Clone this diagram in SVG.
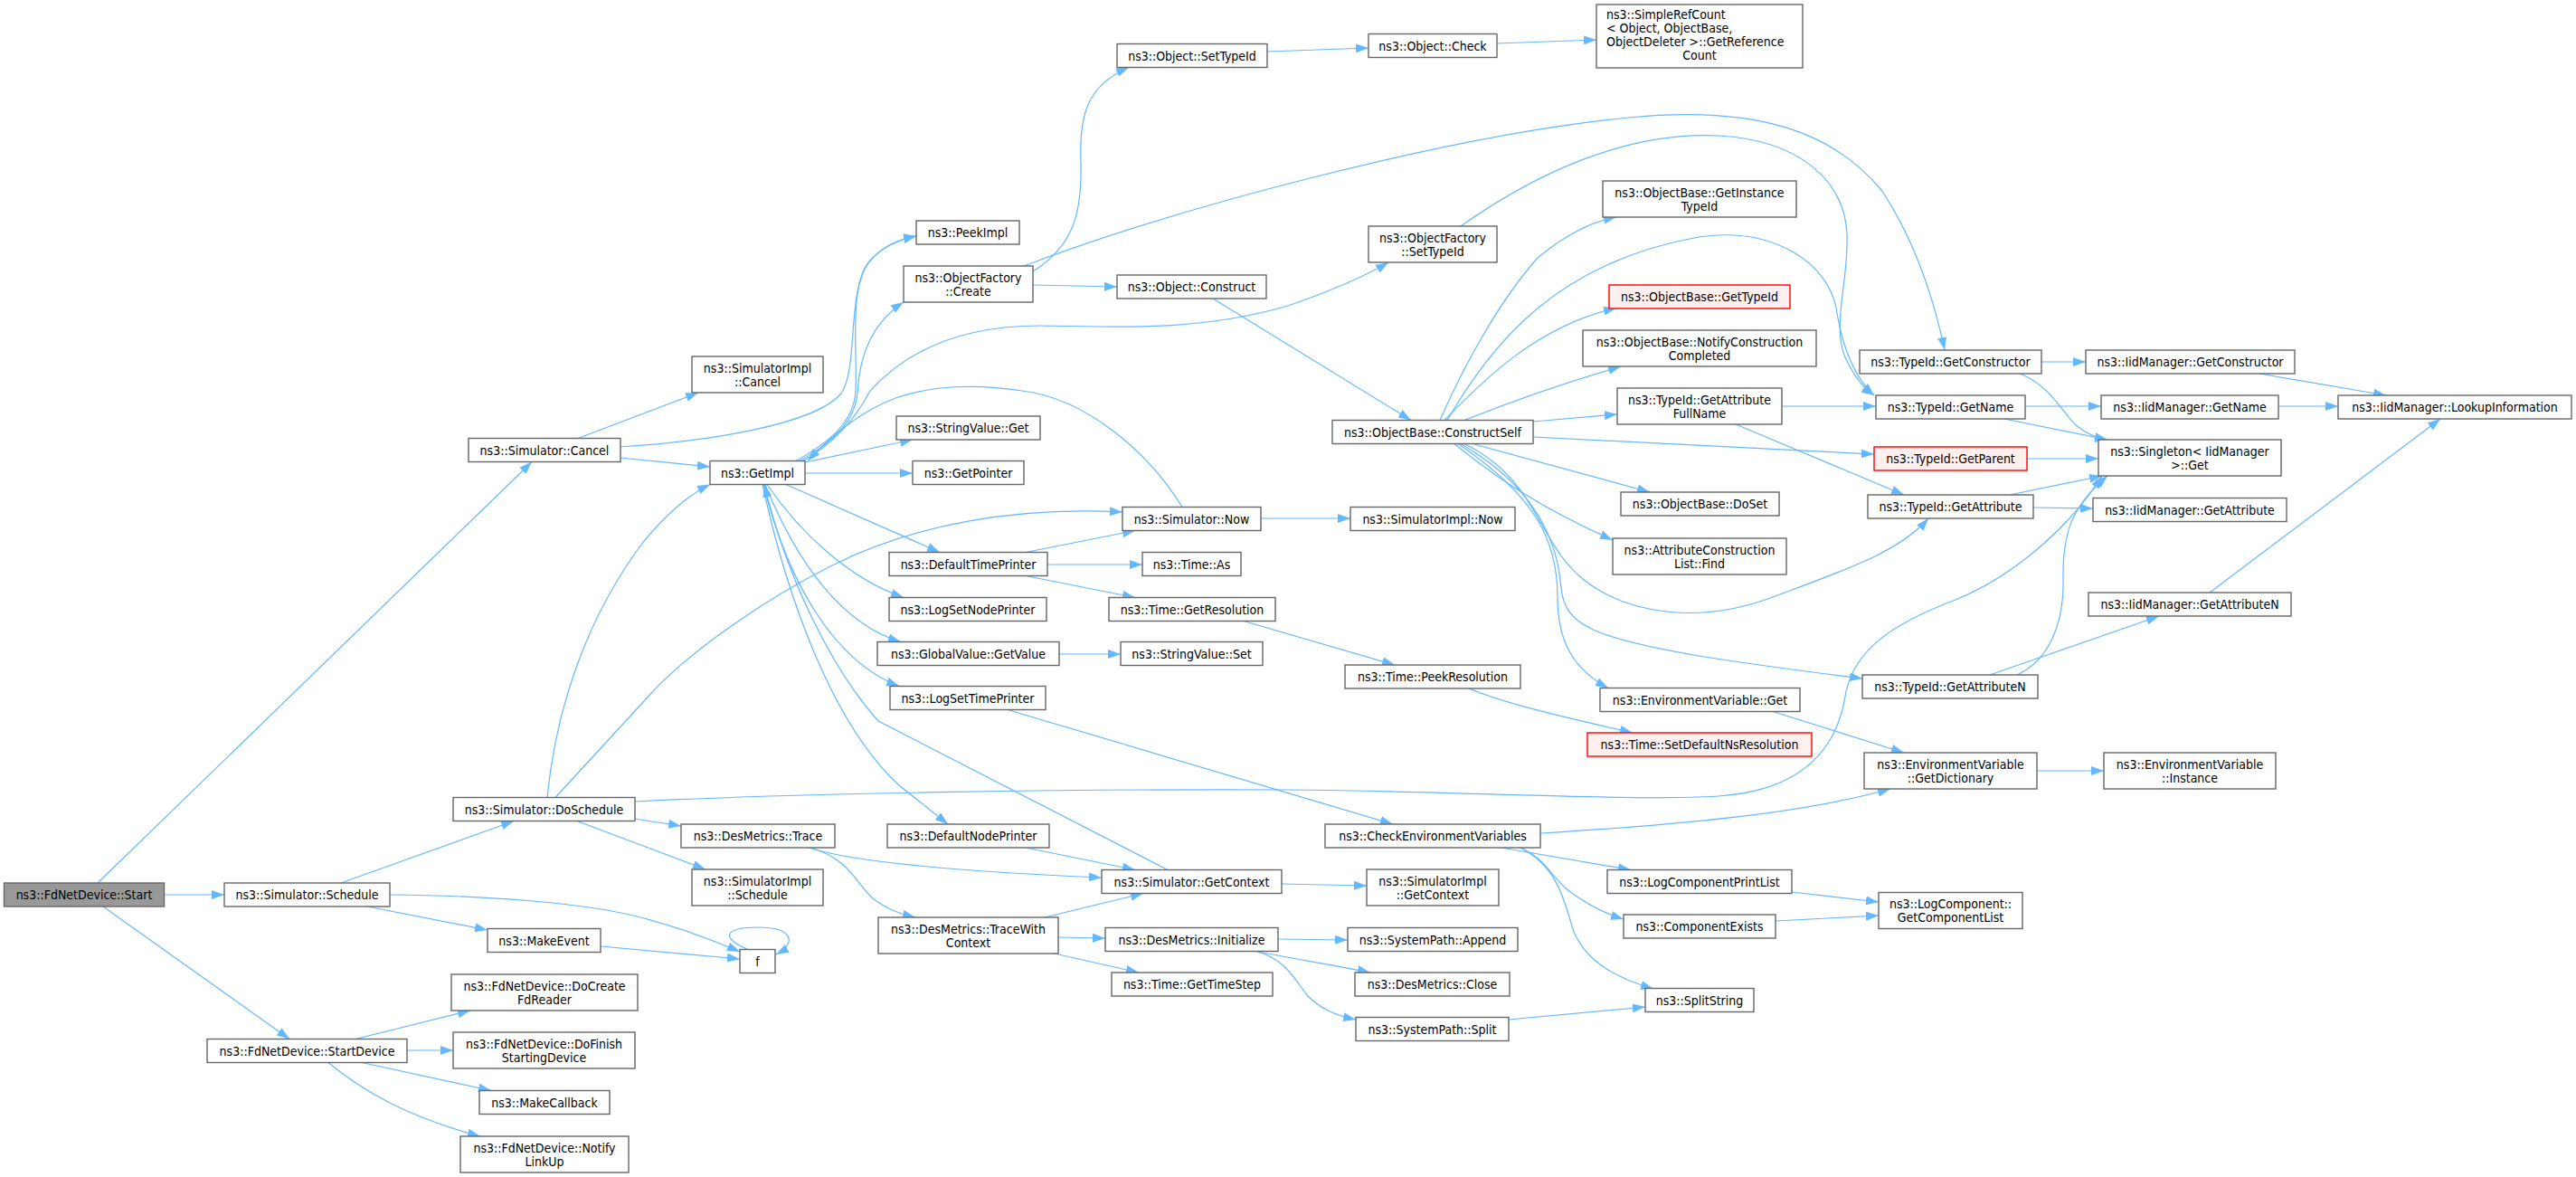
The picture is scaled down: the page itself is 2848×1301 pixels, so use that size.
<svg xmlns="http://www.w3.org/2000/svg" width="2848" height="1301" viewBox="0 0 2848 1301">
<defs>
<marker id="ah" markerUnits="userSpaceOnUse" markerWidth="14" markerHeight="10" viewBox="0 0 14 10" refX="14" refY="5" orient="auto">
<path d="M0,0 L14,5 L0,10 z" fill="#63b8ff"/>
</marker>
<style>
.n rect{fill:#ffffff;stroke:#666666;stroke-width:1.4}
.root rect{fill:#999999;stroke:#666666;stroke-width:1.4}
.red rect{fill:#fff0f0;stroke:#ff0000;stroke-width:1.4}
text{font-family:'DejaVu Sans Condensed','Liberation Sans',Arial,sans-serif;font-size:14px;fill:#000000;text-anchor:middle}
text.l{text-anchor:start}
#edges path{fill:none;stroke:#63b8ff;stroke-width:1.2;marker-end:url(#ah)}
</style>
</defs>
<rect x="0" y="0" width="2848" height="1301" fill="#ffffff"/>
<g id="edges">
<path d="M182,989 L248,989"/>
<path d="M108,976 L588,510.5"/>
<path d="M114,1002 L320,1148.5"/>
<path d="M377,976 L568,907.5"/>
<path d="M406,1002 L539,1028"/>
<path d="M431,989 C540,990 650,998 712,1015 C760,1028 795,1042 818,1052"/>
<path d="M664,1046 L818,1060"/>
<path d="M827,1049.5 C795,1036 802,1025 838,1025 C876,1025 882,1042 858,1055"/>
<path d="M393,1148.5 L520,1117"/>
<path d="M450,1161 L501,1161"/>
<path d="M400,1174.5 L543,1205.5"/>
<path d="M363,1174.5 C400,1205 450,1235 531,1256"/>
<path d="M639,484.5 L772,434"/>
<path d="M686,506 L785,516"/>
<path d="M686,494 C780,488 900,470 930,435 C950,405 935,320 962,288 C976,272 994,264 1013,261"/>
<path d="M880,509.5 C915,490 944,468 946,432 C948,385 938,312 963,287 C977,272 995,265 1013,261"/>
<path d="M884,509.5 C920,490 946,465 948,434 C950,395 962,358 999,334"/>
<path d="M888,509.5 C930,485 950,455 962,432 C1000,390 1060,360 1150,360 C1250,362 1330,365 1424,338 C1470,322 1510,305 1535,290"/>
<path d="M1307,560.5 C1270,500 1200,440 1130,432 C1080,424 1030,426 990,440 C950,455 915,485 893,509.5"/>
<path d="M890,511 L1009,486"/>
<path d="M890,523 L1009,523"/>
<path d="M869,535.5 L1039,610.5"/>
<path d="M848,535.5 C885,590 940,640 999,660.5"/>
<path d="M846,535.5 C880,620 930,690 996,709.5"/>
<path d="M844,535.5 C870,640 920,730 994,758.5"/>
<path d="M843,535.5 C870,660 920,800 994,868 L1048,911"/>
<path d="M1291,961.5 L971,797 C920,740 870,640 845,535.5"/>
<path d="M605,881.5 C615,780 650,680 712,598 C740,565 765,545 785,535.5"/>
<path d="M614,881.5 L712,775 C760,720 850,660 920,625 C1010,580 1120,560 1241,566"/>
<path d="M702,905 L753,913"/>
<path d="M638,907.5 L780,961"/>
<path d="M702,886 C900,876 1200,872 1424,873 C1600,874 1800,886 1900,880 C1990,874 2030,830 2040,770 C2048,720 2090,690 2162,663 C2230,635 2290,580 2324,526"/>
<path d="M894,937 C950,955 1100,965 1218,970"/>
<path d="M896,937 C940,950 945,975 965,993 C980,1005 995,1010 1012,1014"/>
<path d="M1134,937 L1255,961.5"/>
<path d="M1155,1014 L1264,987.5"/>
<path d="M1170,1036 L1222,1037"/>
<path d="M1166,1054 L1259,1075"/>
<path d="M1417,977 L1511,979"/>
<path d="M1413,1038 L1490,1039"/>
<path d="M1389,1051.5 C1420,1058 1470,1066 1515,1075"/>
<path d="M1389,1051.5 C1420,1060 1430,1080 1445,1100 C1460,1115 1475,1122 1499,1127"/>
<path d="M1134,610.5 L1255,586.5"/>
<path d="M1158,624 L1263,624"/>
<path d="M1134,636.5 L1255,660.5"/>
<path d="M1171,723 L1239,723"/>
<path d="M1114,784.5 L1540,911"/>
<path d="M1375,686.5 L1542,735"/>
<path d="M1624,761 C1670,780 1740,795 1805,810"/>
<path d="M1394,573 L1493,573"/>
<path d="M1142,300 C1190,270 1196,230 1195,180 C1193,130 1200,95 1248,74.5"/>
<path d="M1142,315 L1235,317"/>
<path d="M1132,294 C1300,230 1600,150 1800,130 C1950,115 2030,150 2080,210 C2120,270 2140,340 2150,387"/>
<path d="M1615,250 C1700,190 1800,145 1900,150 C1990,155 2040,200 2042,260 C2044,310 2025,360 2040,395 C2048,412 2058,428 2072,437"/>
<path d="M1341,330 L1560,464.5"/>
<path d="M1401,57 L1513,53"/>
<path d="M1655,48 L1765,44"/>
<path d="M1592,464.5 C1620,400 1660,330 1700,285 C1730,260 1760,245 1787,240"/>
<path d="M1597,464.5 C1640,420 1700,360 1787,340.5"/>
<path d="M1619,464.5 C1680,440 1740,420 1792,405"/>
<path d="M1600,464.5 C1650,380 1720,290 1878,262 C1960,250 2020,290 2030,340 C2036,380 2048,415 2072,437"/>
<path d="M1695,466 L1788,458"/>
<path d="M1695,483 C1850,490 1960,497 2072,502"/>
<path d="M1628,490.5 L1824,544"/>
<path d="M1608,490.5 C1650,525 1700,560 1783,597"/>
<path d="M1619,490.5 C1700,530 1700,600 1750,640 C1800,680 1880,690 1960,660 C2040,630 2100,610 2132,573"/>
<path d="M1615,490.5 C1700,540 1722,600 1726,650 C1730,690 1760,705 1878,725 C1960,738 2020,745 2059,750"/>
<path d="M1612,490.5 C1700,550 1722,600 1722,660 C1722,710 1740,740 1778,760.5"/>
<path d="M1970,449 L2074,449"/>
<path d="M1919,469 L2105,547"/>
<path d="M2257,400 L2306,400"/>
<path d="M2233,413 C2265,425 2280,455 2295,470 C2305,478 2315,484 2330,486"/>
<path d="M2239,449 L2323,449"/>
<path d="M2216,463 L2330,486"/>
<path d="M2241,507 L2320,507"/>
<path d="M2222,547 L2324,526"/>
<path d="M2248,561 L2314,562"/>
<path d="M2200,746 L2387,681"/>
<path d="M2230,746 C2265,730 2282,690 2281,640 C2280,590 2290,560 2330,526"/>
<path d="M2498,413 L2638,437"/>
<path d="M2519,449 L2585,449"/>
<path d="M2443,655 L2698,463"/>
<path d="M1960,786.5 L2105,832"/>
<path d="M1703,921 C1850,912 1990,900 2090,872"/>
<path d="M1660,937 L1803,961.5"/>
<path d="M1681,937 C1710,950 1715,970 1735,985 C1755,1000 1775,1010 1795,1016"/>
<path d="M1681,937 C1725,960 1730,1000 1740,1030 C1755,1065 1790,1082 1828,1093"/>
<path d="M1668,1127 L1819,1113"/>
<path d="M1981,986 L2077,997"/>
<path d="M1963,1018 L2077,1012"/>
<path d="M2252,852 L2326,852"/>
</g>
<g id="node_start" class="root"><rect x="4.5" y="976" width="177" height="26"/><text x="93" y="994">ns3::FdNetDevice::Start</text></g>
<g id="node_schedule" class="n"><rect x="248" y="976" width="183" height="26"/><text x="339.5" y="994">ns3::Simulator::Schedule</text></g>
<g id="node_startdevice" class="n"><rect x="229" y="1148.5" width="221" height="26"/><text x="339.5" y="1166.5">ns3::FdNetDevice::StartDevice</text></g>
<g id="node_cancel" class="n"><rect x="518" y="484.5" width="168" height="26"/><text x="602" y="502.5">ns3::Simulator::Cancel</text></g>
<g id="node_doschedule" class="n"><rect x="501" y="881.5" width="201" height="26"/><text x="601.5" y="899.5">ns3::Simulator::DoSchedule</text></g>
<g id="node_makeevent" class="n"><rect x="539" y="1026.5" width="125" height="26"/><text x="601.5" y="1044.5">ns3::MakeEvent</text></g>
<g id="node_docreate" class="n"><rect x="499" y="1077" width="206" height="40"/><text x="602" y="1094.5">ns3::FdNetDevice::DoCreate</text><text x="602" y="1109.5">FdReader</text></g>
<g id="node_dofinish" class="n"><rect x="501" y="1141" width="201" height="40"/><text x="601.5" y="1158.5">ns3::FdNetDevice::DoFinish</text><text x="601.5" y="1173.5">StartingDevice</text></g>
<g id="node_makecallback" class="n"><rect x="530" y="1205.5" width="144" height="26"/><text x="602" y="1223.5">ns3::MakeCallback</text></g>
<g id="node_notify" class="n"><rect x="509" y="1256" width="186" height="40"/><text x="602" y="1273.5">ns3::FdNetDevice::Notify</text><text x="602" y="1288.5">LinkUp</text></g>
<g id="node_simimplcancel" class="n"><rect x="765" y="394" width="145" height="40"/><text x="837.5" y="411.5">ns3::SimulatorImpl</text><text x="837.5" y="426.5">::Cancel</text></g>
<g id="node_getimpl" class="n"><rect x="785" y="509.5" width="105" height="26"/><text x="837.5" y="527.5">ns3::GetImpl</text></g>
<g id="node_trace" class="n"><rect x="753" y="911" width="170" height="26"/><text x="838" y="929">ns3::DesMetrics::Trace</text></g>
<g id="node_simimplschedule" class="n"><rect x="765" y="961" width="145" height="40"/><text x="837.5" y="978.5">ns3::SimulatorImpl</text><text x="837.5" y="993.5">::Schedule</text></g>
<g id="node_f" class="n"><rect x="818" y="1049.5" width="39" height="26"/><text x="837.5" y="1067.5">f</text></g>
<g id="node_peekimpl" class="n"><rect x="1013" y="244" width="114" height="26"/><text x="1070" y="262">ns3::PeekImpl</text></g>
<g id="node_create" class="n"><rect x="999" y="294" width="143" height="40"/><text x="1070.5" y="311.5">ns3::ObjectFactory</text><text x="1070.5" y="326.5">::Create</text></g>
<g id="node_svget" class="n"><rect x="991" y="460" width="159" height="26"/><text x="1070.5" y="478">ns3::StringValue::Get</text></g>
<g id="node_getpointer" class="n"><rect x="1009" y="509.5" width="123" height="26"/><text x="1070.5" y="527.5">ns3::GetPointer</text></g>
<g id="node_defaulttimeprinter" class="n"><rect x="983" y="610.5" width="175" height="26"/><text x="1070.5" y="628.5">ns3::DefaultTimePrinter</text></g>
<g id="node_logsetnodeprinter" class="n"><rect x="983" y="660.5" width="174" height="26"/><text x="1070" y="678.5">ns3::LogSetNodePrinter</text></g>
<g id="node_globalvalue" class="n"><rect x="970" y="709.5" width="201" height="26"/><text x="1070.5" y="727.5">ns3::GlobalValue::GetValue</text></g>
<g id="node_logsettimeprinter" class="n"><rect x="984" y="758.5" width="172" height="26"/><text x="1070" y="776.5">ns3::LogSetTimePrinter</text></g>
<g id="node_defaultnodeprinter" class="n"><rect x="981" y="911" width="179" height="26"/><text x="1070.5" y="929">ns3::DefaultNodePrinter</text></g>
<g id="node_tracewithcontext" class="n"><rect x="971" y="1014" width="199" height="40"/><text x="1070.5" y="1031.5">ns3::DesMetrics::TraceWith</text><text x="1070.5" y="1046.5">Context</text></g>
<g id="node_objsettypeid" class="n"><rect x="1235" y="48.5" width="166" height="26"/><text x="1318" y="66.5">ns3::Object::SetTypeId</text></g>
<g id="node_objconstruct" class="n"><rect x="1235" y="304" width="165" height="26"/><text x="1317.5" y="322">ns3::Object::Construct</text></g>
<g id="node_now" class="n"><rect x="1241" y="560.5" width="153" height="26"/><text x="1317.5" y="578.5">ns3::Simulator::Now</text></g>
<g id="node_timeas" class="n"><rect x="1263" y="610.5" width="109" height="26"/><text x="1317.5" y="628.5">ns3::Time::As</text></g>
<g id="node_getresolution" class="n"><rect x="1226" y="660.5" width="184" height="26"/><text x="1318" y="678.5">ns3::Time::GetResolution</text></g>
<g id="node_svset" class="n"><rect x="1239" y="709.5" width="157" height="26"/><text x="1317.5" y="727.5">ns3::StringValue::Set</text></g>
<g id="node_getcontext" class="n"><rect x="1218" y="961.5" width="199" height="26"/><text x="1317.5" y="979.5">ns3::Simulator::GetContext</text></g>
<g id="node_initialize" class="n"><rect x="1222" y="1025.5" width="191" height="26"/><text x="1317.5" y="1043.5">ns3::DesMetrics::Initialize</text></g>
<g id="node_gettimestep" class="n"><rect x="1229" y="1075" width="178" height="26"/><text x="1318" y="1093">ns3::Time::GetTimeStep</text></g>
<g id="node_objcheck" class="n"><rect x="1513" y="37.5" width="142" height="26"/><text x="1584" y="55.5">ns3::Object::Check</text></g>
<g id="node_ofsettypeid" class="n"><rect x="1513" y="250" width="142" height="40"/><text x="1584" y="267.5">ns3::ObjectFactory</text><text x="1584" y="282.5">::SetTypeId</text></g>
<g id="node_constructself" class="n"><rect x="1473" y="464.5" width="222" height="26"/><text x="1584" y="482.5">ns3::ObjectBase::ConstructSelf</text></g>
<g id="node_simimplnow" class="n"><rect x="1493" y="560.5" width="182" height="26"/><text x="1584" y="578.5">ns3::SimulatorImpl::Now</text></g>
<g id="node_peekresolution" class="n"><rect x="1487" y="735" width="194" height="26"/><text x="1584" y="753">ns3::Time::PeekResolution</text></g>
<g id="node_checkenv" class="n"><rect x="1465" y="911" width="238" height="26"/><text x="1584" y="929">ns3::CheckEnvironmentVariables</text></g>
<g id="node_simimplgetcontext" class="n"><rect x="1511" y="961" width="146" height="40"/><text x="1584" y="978.5">ns3::SimulatorImpl</text><text x="1584" y="993.5">::GetContext</text></g>
<g id="node_append" class="n"><rect x="1490" y="1025.5" width="188" height="26"/><text x="1584" y="1043.5">ns3::SystemPath::Append</text></g>
<g id="node_close" class="n"><rect x="1498" y="1075" width="171" height="26"/><text x="1583.5" y="1093">ns3::DesMetrics::Close</text></g>
<g id="node_split" class="n"><rect x="1499" y="1124.5" width="169" height="26"/><text x="1583.5" y="1142.5">ns3::SystemPath::Split</text></g>
<g id="node_simplerefcount" class="n"><rect x="1765" y="5" width="228" height="70"/><text class="l" x="1776" y="21">ns3::SimpleRefCount</text><text class="l" x="1776" y="36">&lt; Object, ObjectBase,</text><text class="l" x="1776" y="51"> ObjectDeleter &gt;::GetReference</text><text x="1879" y="66">Count</text></g>
<g id="node_getinstancetypeid" class="n"><rect x="1772" y="200" width="214" height="40"/><text x="1879" y="217.5">ns3::ObjectBase::GetInstance</text><text x="1879" y="232.5">TypeId</text></g>
<g id="node_obgettypeid" class="red"><rect x="1779" y="315" width="200" height="26"/><text x="1879" y="333">ns3::ObjectBase::GetTypeId</text></g>
<g id="node_notifyconstruction" class="n"><rect x="1750" y="365" width="258" height="40"/><text x="1879" y="382.5">ns3::ObjectBase::NotifyConstruction</text><text x="1879" y="397.5">Completed</text></g>
<g id="node_getattrfullname" class="n"><rect x="1788" y="429" width="182" height="40"/><text x="1879" y="446.5">ns3::TypeId::GetAttribute</text><text x="1879" y="461.5">FullName</text></g>
<g id="node_doset" class="n"><rect x="1792" y="544" width="175" height="26"/><text x="1879.5" y="562">ns3::ObjectBase::DoSet</text></g>
<g id="node_find" class="n"><rect x="1783" y="595" width="192" height="40"/><text x="1879" y="612.5">ns3::AttributeConstruction</text><text x="1879" y="627.5">List::Find</text></g>
<g id="node_envget" class="n"><rect x="1769" y="760.5" width="221" height="26"/><text x="1879.5" y="778.5">ns3::EnvironmentVariable::Get</text></g>
<g id="node_setdefaultns" class="red"><rect x="1755" y="810" width="248" height="26"/><text x="1879" y="828">ns3::Time::SetDefaultNsResolution</text></g>
<g id="node_logcomponentprintlist" class="n"><rect x="1777" y="961.5" width="204" height="26"/><text x="1879" y="979.5">ns3::LogComponentPrintList</text></g>
<g id="node_componentexists" class="n"><rect x="1795" y="1011" width="168" height="26"/><text x="1879" y="1029">ns3::ComponentExists</text></g>
<g id="node_splitstring" class="n"><rect x="1819" y="1092.5" width="120" height="26"/><text x="1879" y="1110.5">ns3::SplitString</text></g>
<g id="node_tgetconstructor" class="n"><rect x="2056" y="387" width="201" height="26"/><text x="2156.5" y="405">ns3::TypeId::GetConstructor</text></g>
<g id="node_tgetname" class="n"><rect x="2074" y="437" width="165" height="26"/><text x="2156.5" y="455">ns3::TypeId::GetName</text></g>
<g id="node_tgetparent" class="red"><rect x="2072" y="494" width="169" height="26"/><text x="2156.5" y="512">ns3::TypeId::GetParent</text></g>
<g id="node_tgetattribute" class="n"><rect x="2065" y="547" width="183" height="26"/><text x="2156.5" y="565">ns3::TypeId::GetAttribute</text></g>
<g id="node_tgetattributen" class="n"><rect x="2059" y="746" width="194" height="26"/><text x="2156" y="764">ns3::TypeId::GetAttributeN</text></g>
<g id="node_getdictionary" class="n"><rect x="2061" y="832" width="191" height="40"/><text x="2156.5" y="849.5">ns3::EnvironmentVariable</text><text x="2156.5" y="864.5">::GetDictionary</text></g>
<g id="node_getcomponentlist" class="n"><rect x="2077" y="986.5" width="159" height="40"/><text x="2156.5" y="1004">ns3::LogComponent::</text><text x="2156.5" y="1019">GetComponentList</text></g>
<g id="node_igetconstructor" class="n"><rect x="2306" y="387" width="231" height="26"/><text x="2421.5" y="405">ns3::IidManager::GetConstructor</text></g>
<g id="node_igetname" class="n"><rect x="2323" y="437" width="196" height="26"/><text x="2421" y="455">ns3::IidManager::GetName</text></g>
<g id="node_singleton" class="n"><rect x="2320" y="486" width="202" height="40"/><text x="2421" y="503.5">ns3::Singleton&lt; IidManager</text><text x="2421" y="518.5">&gt;::Get</text></g>
<g id="node_igetattribute" class="n"><rect x="2314" y="550.5" width="214" height="26"/><text x="2421" y="568.5">ns3::IidManager::GetAttribute</text></g>
<g id="node_igetattributen" class="n"><rect x="2309" y="655" width="224" height="26"/><text x="2421" y="673">ns3::IidManager::GetAttributeN</text></g>
<g id="node_instance" class="n"><rect x="2326" y="832" width="190" height="40"/><text x="2421" y="849.5">ns3::EnvironmentVariable</text><text x="2421" y="864.5">::Instance</text></g>
<g id="node_lookup" class="n"><rect x="2585" y="437" width="258" height="26"/><text x="2714" y="455">ns3::IidManager::LookupInformation</text></g>
</svg>
